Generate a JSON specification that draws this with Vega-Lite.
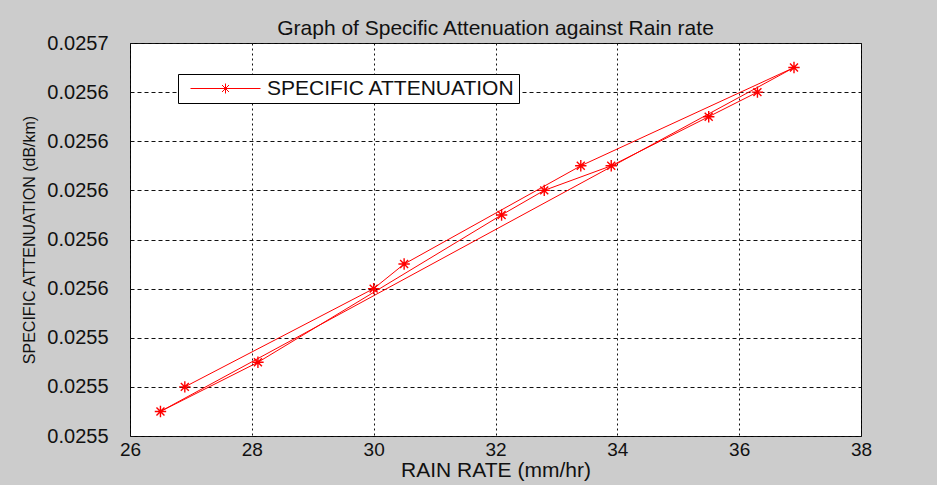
{
  "$schema": "https://vega.github.io/schema/vega-lite/v6.json",
  "width": 731,
  "height": 393,
  "autosize": {"type": "none"},
  "padding": {"left": 130, "top": 43, "right": 76, "bottom": 49},
  "background": "#cccccc",
  "title": {
    "text": "Graph of Specific Attenuation against Rain rate",
    "font": "Liberation Sans",
    "fontSize": 21,
    "fontWeight": "normal",
    "color": "#111111",
    "offset": -6,
    "anchor": "middle",
    "frame": "group"
  },
  "config": {
    "view": {"fill": "white", "stroke": "black", "strokeWidth": 1}
  },
  "data": {
    "values": [
      {"seq": 1, "rain": 26.9, "att": 0.02552},
      {"seq": 2, "rain": 30.0, "att": 0.02556},
      {"seq": 3, "rain": 30.5, "att": 0.02557},
      {"seq": 4, "rain": 33.4, "att": 0.02561},
      {"seq": 5, "rain": 36.9, "att": 0.02565},
      {"seq": 6, "rain": 26.5, "att": 0.02551},
      {"seq": 7, "rain": 28.1, "att": 0.02553},
      {"seq": 8, "rain": 32.1, "att": 0.02559},
      {"seq": 9, "rain": 32.8, "att": 0.02560},
      {"seq": 10, "rain": 33.9, "att": 0.02561},
      {"seq": 11, "rain": 35.5, "att": 0.02563},
      {"seq": 12, "rain": 36.3, "att": 0.02564}
    ]
  },
  "encoding": {
    "x": {
      "field": "rain",
      "type": "quantitative",
      "scale": {"domain": [26, 38], "nice": false, "zero": false},
      "axis": {
        "title": "RAIN RATE (mm/hr)",
        "values": [26, 28, 30, 32, 34, 36, 38],
        "format": "d",
        "domain": false,
        "ticks": false,
        "grid": true,
        "gridColor": "#111111",
        "gridDash": [2, 3],
        "gridWidth": 1,
        "gridOpacity": 1,
        "labelFont": "Liberation Sans",
        "labelFontSize": 19,
        "labelColor": "#111111",
        "labelPadding": 4,
        "labelFlush": false,
        "titleFont": "Liberation Sans",
        "titleFontSize": 21,
        "titleFontWeight": "normal",
        "titleColor": "#111111",
        "titlePadding": 0
      }
    },
    "y": {
      "field": "att",
      "type": "quantitative",
      "scale": {"domain": [0.0255, 0.02566], "nice": false, "zero": false},
      "axis": {
        "title": "SPECIFIC ATTENUATION (dB/km)",
        "values": [0.0255, 0.02552, 0.02554, 0.02556, 0.02558, 0.0256, 0.02562, 0.02564, 0.02566],
        "format": ".4f",
        "domain": false,
        "ticks": false,
        "grid": true,
        "gridColor": "#111111",
        "gridDash": [4, 3],
        "gridWidth": 1,
        "gridOpacity": 1,
        "labelFont": "Liberation Sans",
        "labelFontSize": 20,
        "labelColor": "#111111",
        "labelPadding": 22,
        "labelFlush": false,
        "titleFont": "Liberation Sans",
        "titleFontSize": 16,
        "titleFontWeight": "normal",
        "titleColor": "#111111",
        "titlePadding": 9
      }
    }
  },
  "layer": [
    {
      "mark": {"type": "line", "strokeWidth": 1},
      "encoding": {
        "order": {"field": "seq", "type": "quantitative"},
        "color": {
          "datum": "SPECIFIC ATTENUATION",
          "scale": {"range": ["red"]},
          "legend": {
            "title": null,
            "orient": "none",
            "legendX": 48,
            "legendY": 31,
            "fillColor": "white",
            "strokeColor": "black",
            "padding": 4,
            "labelFont": "Liberation Sans",
            "labelFontSize": 21,
            "labelColor": "#111111",
            "labelLimit": 500,
            "labelOffset": 31,
            "symbolType": "M-7,0H7M0,-1V1M-0.7,-0.7L0.7,0.7M-0.7,0.7L0.7,-0.7",
            "symbolSize": 100,
            "symbolStrokeWidth": 1,
            "symbolStrokeColor": "red",
            "symbolOffset": 33
          }
        }
      }
    },
    {
      "mark": {
        "type": "point",
        "shape": "M-1,0H1M0,-1V1M-0.7,-0.7L0.7,0.7M-0.7,0.7L0.7,-0.7",
        "size": 130,
        "filled": false,
        "color": "red",
        "strokeWidth": 1.4,
        "opacity": 1
      }
    }
  ]
}
